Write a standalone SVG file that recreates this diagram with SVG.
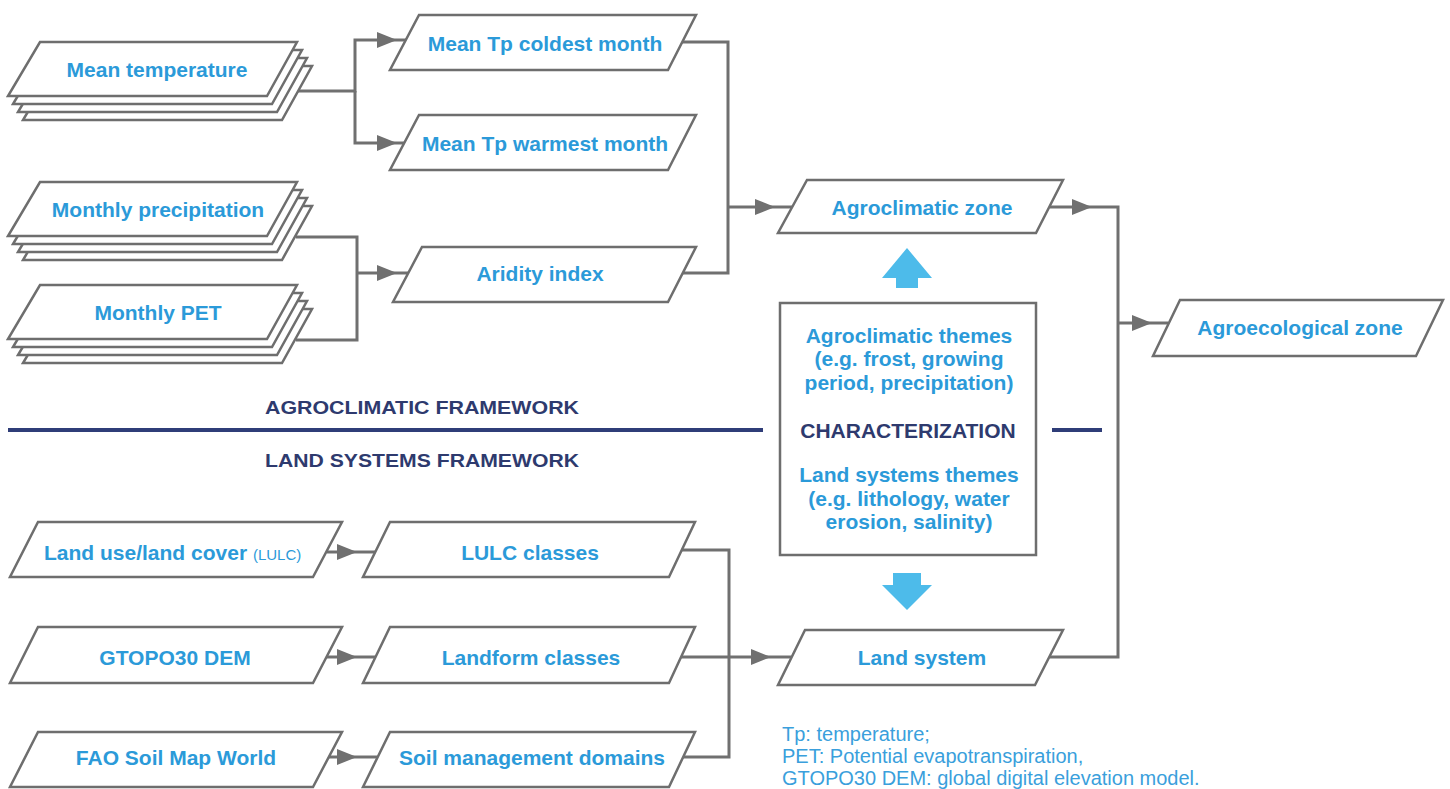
<svg xmlns="http://www.w3.org/2000/svg" width="1450" height="789" viewBox="0 0 1450 789">
<defs>
<style>
.box{fill:#ffffff;stroke:#6e6e6e;stroke-width:2.5;stroke-linejoin:miter}
.con{fill:none;stroke:#707070;stroke-width:3}
.lbl{font-family:"Liberation Sans",Arial,sans-serif;font-weight:bold;font-size:21px;fill:#2b9ad9;text-anchor:middle}
.fw{font-family:"Liberation Sans",Arial,sans-serif;font-weight:bold;font-size:18px;fill:#2e3a6e;text-anchor:middle}
.note{font-family:"Liberation Sans",Arial,sans-serif;font-size:20px;fill:#3a9fdc}
.navy{stroke:#2f3d78;stroke-width:4}
.blk{fill:#4dbbea}
</style>
<marker id="ah" viewBox="0 0 20 16" refX="20" refY="8" markerWidth="20" markerHeight="16" markerUnits="userSpaceOnUse" orient="auto">
<path d="M0,0 L20,8 L0,16 Z" fill="#707070"/>
</marker>
<polygon id="stk" points="32,0 289,0 259,54 0,54"/>
</defs>
<rect width="1450" height="789" fill="#ffffff"/>

<g id="connectors">
<path class="con" d="M298,91 H355 V40 H397" marker-end="url(#ah)"/>
<path class="con" d="M397,40 H407"/>
<path class="con" d="M355,91 V143 H397" marker-end="url(#ah)"/>
<path class="con" d="M397,143 H407"/>
<path class="con" d="M296,237 H357 V340 H296"/>
<path class="con" d="M357,273 H397" marker-end="url(#ah)"/>
<path class="con" d="M397,273 H410"/>
<path class="con" d="M681,42 H728 V273 H683"/>
<path class="con" d="M728,207 H775" marker-end="url(#ah)"/>
<path class="con" d="M775,207 H793"/>
<path class="con" d="M1050,207 H1092" marker-end="url(#ah)"/>
<path class="con" d="M1092,207 H1118 V657 H1050"/>
<path class="con" d="M1118,323 H1152" marker-end="url(#ah)"/>
<path class="con" d="M1152,323 H1168"/>
<path class="con" d="M327,552 H357" marker-end="url(#ah)"/>
<path class="con" d="M357,552 H377"/>
<path class="con" d="M327,657 H357" marker-end="url(#ah)"/>
<path class="con" d="M357,657 H377"/>
<path class="con" d="M327,757 H357" marker-end="url(#ah)"/>
<path class="con" d="M357,757 H377"/>
<path class="con" d="M679,550 H729 V757 H679"/>
<path class="con" d="M679,657 H771" marker-end="url(#ah)"/>
<path class="con" d="M771,657 H791"/>
</g>

<g id="framework">
<line class="navy" x1="8" y1="430" x2="763" y2="430"/>
<line class="navy" x1="1052" y1="430" x2="1102" y2="430"/>
<text class="fw" x="422" y="414" textLength="314" lengthAdjust="spacingAndGlyphs">AGROCLIMATIC FRAMEWORK</text>
<text class="fw" x="422" y="467" textLength="314" lengthAdjust="spacingAndGlyphs">LAND SYSTEMS FRAMEWORK</text>
</g>

<g id="mean-temperature">
<use href="#stk" class="box" transform="translate(23,66)"/>
<use href="#stk" class="box" transform="translate(18,58)"/>
<use href="#stk" class="box" transform="translate(13,50)"/>
<use href="#stk" class="box" transform="translate(8,42)"/>
<text class="lbl" x="157" y="77">Mean temperature</text>
</g>

<g id="monthly-precipitation">
<use href="#stk" class="box" transform="translate(23,206)"/>
<use href="#stk" class="box" transform="translate(18,198)"/>
<use href="#stk" class="box" transform="translate(13,190)"/>
<use href="#stk" class="box" transform="translate(8,182)"/>
<text class="lbl" x="158" y="217">Monthly precipitation</text>
</g>

<g id="monthly-pet">
<use href="#stk" class="box" transform="translate(23,309)"/>
<use href="#stk" class="box" transform="translate(18,301)"/>
<use href="#stk" class="box" transform="translate(13,293)"/>
<use href="#stk" class="box" transform="translate(8,285)"/>
<text class="lbl" x="158" y="320">Monthly PET</text>
</g>

<g id="mean-tp-coldest">
<polygon class="box" points="419,15 696,15 668,70 390,70"/>
<text class="lbl" x="545" y="51">Mean Tp coldest month</text>
</g>

<g id="mean-tp-warmest">
<polygon class="box" points="419,115 696,115 668,170 390,170"/>
<text class="lbl" x="545" y="151">Mean Tp warmest month</text>
</g>

<g id="aridity-index">
<polygon class="box" points="422,247 696,247 668,302 393,302"/>
<text class="lbl" x="540" y="281">Aridity index</text>
</g>

<g id="agroclimatic-zone">
<polygon class="box" points="807,180 1063,180 1036,233 778,233"/>
<text class="lbl" x="922" y="215">Agroclimatic zone</text>
</g>

<g id="agroecological-zone">
<polygon class="box" points="1180,300 1443,300 1416,356 1153,356"/>
<text class="lbl" x="1300" y="335">Agroecological zone</text>
</g>

<g id="characterization">
<path class="blk" d="M907,248 L932,278 L918,278 L918,288 L896,288 L896,278 L882,278 Z"/>
<rect class="box" x="780" y="303" width="256" height="252"/>
<text class="lbl" x="909" y="343">Agroclimatic themes</text>
<text class="lbl" x="909" y="366">(e.g. frost, growing</text>
<text class="lbl" x="909" y="390">period, precipitation)</text>
<text class="fw" x="908" y="438" style="font-size:21px">CHARACTERIZATION</text>
<text class="lbl" x="909" y="482">Land systems themes</text>
<text class="lbl" x="909" y="506">(e.g. lithology, water</text>
<text class="lbl" x="909" y="529">erosion, salinity)</text>
<path class="blk" d="M893,573 L921,573 L921,585 L932,585 L907,610 L882,585 L893,585 Z"/>
</g>

<g id="land-use">
<polygon class="box" points="38,522 342,522 313,577 10,577"/>
<text class="lbl" x="44" y="560" style="text-anchor:start">Land use/land cover <tspan style="font-size:15px;font-weight:normal">(LULC)</tspan></text>
</g>

<g id="gtopo30-dem">
<polygon class="box" points="38,627 342,627 313,683 10,683"/>
<text class="lbl" x="175" y="665">GTOPO30 DEM</text>
</g>

<g id="fao-soil-map">
<polygon class="box" points="38,732 342,732 313,787 10,787"/>
<text class="lbl" x="176" y="765">FAO Soil Map World</text>
</g>

<g id="lulc-classes">
<polygon class="box" points="390,522 695,522 669,577 363,577"/>
<text class="lbl" x="530" y="560">LULC classes</text>
</g>

<g id="landform-classes">
<polygon class="box" points="390,627 695,627 669,683 363,683"/>
<text class="lbl" x="531" y="665">Landform classes</text>
</g>

<g id="soil-management-domains">
<polygon class="box" points="390,732 695,732 669,787 363,787"/>
<text class="lbl" x="532" y="765">Soil management domains</text>
</g>

<g id="land-system">
<polygon class="box" points="805,630 1063,630 1035,685 778,685"/>
<text class="lbl" x="922" y="665">Land system</text>
</g>

<g id="notes">
<text class="note" x="782" y="741">Tp: temperature;</text>
<text class="note" x="782" y="763">PET: Potential evapotranspiration,</text>
<text class="note" x="782" y="785">GTOPO30 DEM: global digital elevation model.</text>
</g>
</svg>
